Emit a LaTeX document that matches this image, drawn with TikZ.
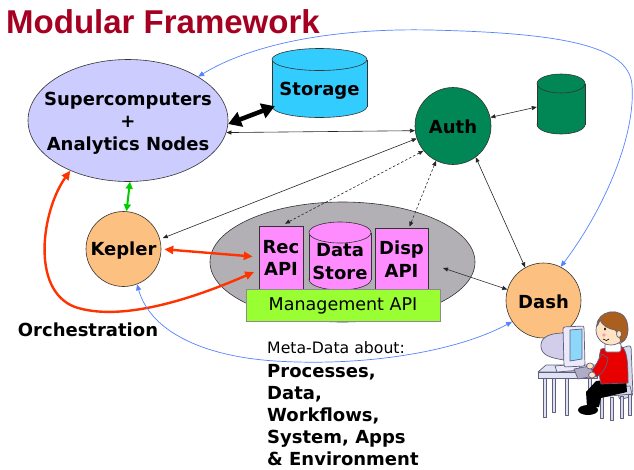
\documentclass[tikz,border=0pt]{standalone}
\usepackage{fontspec}
\setmainfont{DejaVu Sans}
\newfontfamily\titlefont{Liberation Sans}
\usetikzlibrary{arrows.meta,shapes.geometric,calc}

\definecolor{titlered}{RGB}{165,0,33}
\definecolor{lavender}{RGB}{204,204,255}
\definecolor{storecyan}{RGB}{51,204,255}
\definecolor{authgreen}{RGB}{0,135,85}
\definecolor{peach}{RGB}{252,192,128}
\definecolor{hubgray}{RGB}{178,176,180}
\definecolor{apipink}{RGB}{255,140,255}
\definecolor{mgmtgreen}{RGB}{153,255,51}
\definecolor{orchred}{RGB}{255,51,0}
\definecolor{linkgreen}{RGB}{0,204,0}
\definecolor{linkblue}{RGB}{85,130,255}
\definecolor{figout}{RGB}{95,95,125}
\definecolor{chairfill}{RGB}{215,218,235}
\definecolor{deskfill}{RGB}{222,226,242}
\definecolor{monfill}{RGB}{236,234,250}
\definecolor{monshade}{RGB}{210,205,235}
\definecolor{screenblue}{RGB}{140,215,250}
\definecolor{keyfill}{RGB}{175,172,200}
\definecolor{skin}{RGB}{255,228,196}
\definecolor{hair}{RGB}{170,95,30}
\definecolor{shirtred}{RGB}{232,0,0}
\definecolor{cheek}{RGB}{255,150,170}

% upright cylinder: name, centre x, centre y, half width, half height, cap radius, fill
\newcommand\drum[7]{%
  \path[drumline, fill=#7] (#2,#3+#5-#6) ellipse [x radius=#4pt, y radius=#6pt];
  \fill[#7] (#2-#4,#3-#5+#6) rectangle (#2+#4,#3+#5-#6);
  \draw[drumline] (#2-#4,#3-#5+#6) -- (#2-#4,#3+#5-#6)
                  (#2+#4,#3-#5+#6) -- (#2+#4,#3+#5-#6);
  \path[drumline, fill=#7] (#2,#3-#5+#6) ellipse [x radius=#4pt, y radius=#6pt];
  \node[inner sep=0pt, minimum width={2*#4pt}, minimum height={2*#5pt}] (#1) at (#2,#3) {};
}

\begin{document}
\begin{tikzpicture}[x=1pt,y=-1pt,
  outline/.style={draw=black!80, line width=0.6pt},
  drumline/.style={draw=black!80, line width=0.6pt},
  blob/.style={outline, inner sep=0pt},
  lbl/.style={font=\fontsize{18}{22.5}\selectfont\bfseries, align=center, text=black, inner sep=0pt},
  plain/.style={font=\fontsize{17.5}{21}\selectfont, inner sep=0pt},
  note/.style={font=\fontsize{15.7}{20}\selectfont, inner sep=0pt, anchor=base west},
  notebold/.style={font=\fontsize{18}{22}\selectfont\bfseries, inner sep=0pt, anchor=base west},
  tip/.style={Triangle[length=5pt,width=4pt]},
  link/.style={draw=black!85, line width=0.6pt, {Triangle[length=5pt,width=4pt]}-{Triangle[length=5pt,width=4pt]}},
  dashlink/.style={link, dash pattern=on 2.5pt off 2pt},
  bluelink/.style={draw=linkblue, line width=0.7pt, {Triangle[length=6pt,width=5pt]}-{Triangle[length=6pt,width=5pt]}},
  redlink/.style={draw=orchred, line width=2.4pt, {Triangle[length=9pt,width=8pt]}-{Triangle[length=9pt,width=8pt]}},
  greenlink/.style={draw=linkgreen, line width=2pt, {Triangle[length=7pt,width=7pt]}-{Triangle[length=7pt,width=7pt]}},
  biglink/.style={draw=black, line width=4.5pt, {Triangle[length=13pt,width=15pt]}-{Triangle[length=13pt,width=15pt]}},
  figline/.style={draw=figout, line width=0.7pt, line join=round},
]
\useasboundingbox (0,0) rectangle (634,469);

% title
\node[anchor=base west, inner sep=0pt, text=titlered,
      font=\titlefont\bfseries\fontsize{33}{36}\selectfont] (title) at (6,33) {Modular Framework};

% main shapes
\node[blob, ellipse, fill=lavender, minimum width=200pt, minimum height=122pt] (sup) at (128,120.5) {};
\node[lbl] (suplabel) at (128,123) {Supercomputers\\+\\Analytics Nodes};

\drum{storage}{319.5}{83}{47.5}{34.5}{11}{storecyan}
\node[lbl] (storagelabel) at (319.5,90.5) {Storage};

\drum{gdb}{561}{104}{24}{30}{9.5}{authgreen}

\node[blob, ellipse, fill=authgreen, minimum width=76pt, minimum height=77pt] (auth) at (453,126) {};
\node[lbl] (authlabel) at (453,126.5) {Auth};

\node[blob, circle, fill=peach, minimum size=75pt] (kepler) at (123.5,249) {};
\node[lbl] (keplerlabel) at (123.5,251) {Kepler};

\node[blob, circle, fill=peach, minimum size=75pt] (dash) at (543.5,300.5) {};
\node[lbl] (dashlabel) at (543.5,301.5) {Dash};

\node[blob, ellipse, fill=hubgray, minimum width=265pt, minimum height=120pt] (hub) at (342.5,262) {};
\node[blob, rectangle, fill=apipink, minimum width=44pt, minimum height=64pt] (rec) at (281,258) {};
\node[lbl] (reclabel) at (281,258) {Rec\\API};
\drum{store}{340}{256}{31}{34}{10.5}{apipink}
\node[lbl] (storelabel) at (340,261.5) {Data\\Store};
\node[blob, rectangle, fill=apipink, minimum width=53pt, minimum height=62pt] (disp) at (401.5,259) {};
\node[lbl] (displabel) at (401.5,259) {Disp\\API};
\node[blob, rectangle, fill=mgmtgreen, draw=black!45, minimum width=194pt, minimum height=32pt] (mgmt) at (343,305) {};
\node[plain] (mgmtlabel) at (343,305.5) {Management API};

% free-standing labels
\node[lbl] (orch) at (88,330) {Orchestration};
\node[note] (meta0) at (267,353) {Meta-Data about:};
\node[notebold] (meta1) at (267,377) {Processes,};
\node[notebold] (meta2) at (267,399.5) {Data,};
\node[notebold] (meta3) at (267,421.5) {Workflows,};
\node[notebold] (meta4) at (267,443.5) {System, Apps};
\node[notebold] (meta5) at (267,465.5) {\&\ Environment};

% connectors
\coordinate (hubtip) at (443,268);
\draw[biglink] (sup.-2) -- ([xshift=3pt,yshift=11.5pt]storage.south west);
\draw[link] (sup.-7) -- (auth.187);
\draw[link] (auth.13) -- ([yshift=-3pt]gdb.west);
\draw[link, shorten >=3pt] (auth.199) -- (kepler.15);
\draw[dashlink] (auth.220) -- ([xshift=4pt,yshift=2pt]rec.north);
\draw[dashlink] (auth.244) -- ([xshift=8pt,yshift=1pt]disp.north);
\draw[link] (auth.-54) -- (dash.119);
\draw[link] (hubtip) -- (dash.163);
\draw[greenlink] ([xshift=2pt]sup.south) -- ([xshift=3pt]kepler.north);
\draw[redlink, shorten <=3pt, shorten >=6pt] (kepler.east) -- ([yshift=1pt]rec.west);
\draw[redlink, shorten >=5pt] (sup.221) .. controls (42,210) and (30,290) .. (75,307)
  .. controls (120,322) and (190,300) .. ([yshift=-12pt]rec.west);
\draw[bluelink] (dash.63) .. controls (600,215) and (636,140) .. (632,85)
  .. controls (629,45) and (560,33) .. (430,30)
  .. controls (330,28) and (250,45) .. (sup.32);
\draw[bluelink] (kepler.-69) .. controls (150,330) and (200,356) .. (275,361)
  .. controls (370,367) and (460,350) .. (dash.-146);

% user at a workstation
% chair
\path[figline, fill=chairfill, rounded corners=3pt] (616,350) -- (631,345) -- (633,396) -- (619,400) -- cycle;
\path[figline, fill=chairfill] (597,388) -- (630,386) -- (632,394) -- (599,397) -- cycle;
\path[figline, fill=chairfill] (600,396) rectangle (603,418);
\path[figline, fill=chairfill] (610,397) rectangle (613,420);
\path[figline, fill=chairfill] (620,396) rectangle (623,418);
\path[figline, fill=chairfill] (628,394) rectangle (631,415);
% desk
\path[figline, fill=deskfill] (543,377) rectangle (546,417);
\path[figline, fill=deskfill] (552,377) rectangle (555,412);
\path[figline, fill=deskfill] (565,377) rectangle (568,415);
\path[figline, fill=deskfill] (588,377) rectangle (591,411);
\path[figline, fill=deskfill] (538,372) -- (546,365) -- (598,365) -- (597,372) -- cycle;
\path[figline, fill=deskfill] (538,372) rectangle (597,378);
% monitor
\path[figline, fill=monfill] (555,366) -- (578,364) -- (581,370) -- (557,372) -- cycle;
\path[figline, fill=monshade] (564,333) .. controls (548,333) and (540,338) .. (541,347)
  .. controls (542,356) and (552,358) .. (564,360) -- cycle;
\path[figline, fill=monfill, rounded corners=2pt] (563,327) -- (584,326) -- (585,366) -- (564,367) -- cycle;
\path[figline, fill=screenblue] (570,330) -- (582,329) -- (582,359) -- (570,361) -- cycle;
% keyboard
\path[figline, fill=keyfill] (574,369) -- (590,366) -- (595,376) -- (578,379) -- cycle;
% legs and shoe
\path[fill=black] (626,378) -- (627,392) -- (601,398) -- (599,407) -- (587,407) -- (586,392) -- (596,381) -- cycle;
\path[fill=black] (588,410) ellipse [x radius=10pt, y radius=5pt];
% shirt and arm
\path[figline, fill=shirtred] (601,349) -- (621,346) .. controls (627,350) and (628,360) .. (628,383)
  -- (601,384) .. controls (598,372) and (598,358) .. (601,349) -- cycle;
\path[figline, fill=shirtred] (602,354) .. controls (598,360) and (596,366) .. (592,370)
  -- (596,377) .. controls (603,374) and (607,366) .. (608,358) -- cycle;
\path[figline, fill=skin] (590,366) ellipse [x radius=3.5pt, y radius=3pt];
\path[figline, fill=skin] (592,375) ellipse [x radius=3.5pt, y radius=3pt];
\path[figline, fill=white, rounded corners=2pt] (605,343) rectangle (621,352);
% head
\path[figline, fill=skin] (611,330) circle [radius=15pt];
\path[figline, fill=hair] (597,326) .. controls (596,311) and (622,305) .. (627,322)
  .. controls (630,333) and (626,341) .. (621,343)
  .. controls (620,337) and (618,333) .. (615,330)
  .. controls (608,329) and (602,325) .. (600,320)
  .. controls (599,323) and (598,325) .. (597,326) -- cycle;
\path[figline, fill=skin] (619,334) ellipse [x radius=2.5pt, y radius=3.5pt];
\fill[black] (605,329) ellipse [x radius=1pt, y radius=1.6pt];
\fill[cheek] (604,335) circle [radius=1.8pt];
\draw[line width=0.6pt] (603,339) .. controls (605,341) and (608,341) .. (609,339);

\end{tikzpicture}
\end{document}
